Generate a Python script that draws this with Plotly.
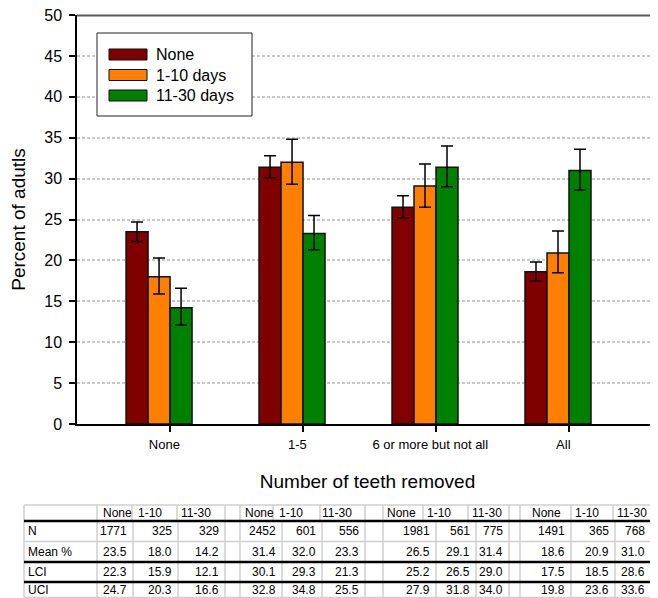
import plotly.graph_objects as go

# ---------------- data ----------------
categories = ["None", "1-5", "6 or more but not all", "All"]
series_names = ["None", "1-10 days", "11-30 days"]
short_names = ["None", "1-10", "11-30"]
colors = ["#800000", "#FF8000", "#008000"]

n_none = [1771, 2452, 1981, 1491]
n_1_10 = [325, 601, 561, 365]
n_11_30 = [329, 556, 775, 768]

mean_none = [23.5, 31.4, 26.5, 18.6]
mean_1_10 = [18.0, 32.0, 29.1, 20.9]
mean_11_30 = [14.2, 23.3, 31.4, 31.0]

lci_none = [22.3, 30.1, 25.2, 17.5]
lci_1_10 = [15.9, 29.3, 26.5, 18.5]
lci_11_30 = [12.1, 21.3, 29.0, 28.6]

uci_none = [24.7, 32.8, 27.9, 19.8]
uci_1_10 = [20.3, 34.8, 31.8, 23.6]
uci_11_30 = [16.6, 25.5, 34.0, 33.6]

row_labels = ["N", "Mean %", "LCI", "UCI"]
y_ticks = [0, 5, 10, 15, 20, 25, 30, 35, 40, 45, 50]

# ---------------- geometry helpers ----------------
# the page body has an 8px margin, so the figure is drawn 8px smaller
OFF = 8
W, H = 658 - OFF, 598 - OFF
ML, MR, MT, MB = 77 - OFF, 0, 15 - OFF, 0
FONT = "Liberation Sans, Arial, sans-serif"
X_RANGE = [-0.617, 3.752]


def px(x):
    """screen x (reference pixels) -> paper fraction"""
    return (x - OFF - ML) / (W - ML - MR)


def py(y):
    """screen y (reference pixels) -> paper fraction"""
    return (H - MB - (y - OFF)) / (H - MT - MB)


means = [mean_none, mean_1_10, mean_11_30]
lcis = [lci_none, lci_1_10, lci_11_30]
ucis = [uci_none, uci_1_10, uci_11_30]
ns = [n_none, n_1_10, n_11_30]

xpos = list(range(len(categories)))

fig = go.Figure()
for s in range(3):
    fig.add_trace(go.Bar(
        x=xpos,
        y=means[s],
        name=series_names[s],
        marker=dict(color=colors[s], line=dict(color="#111111", width=1.5)),
        error_y=dict(
            type="data", symmetric=False,
            array=[u - m for u, m in zip(ucis[s], means[s])],
            arrayminus=[m - l for m, l in zip(means[s], lcis[s])],
            color="black", thickness=1.5, width=6,
        ),
        showlegend=False,
    ))

shapes = []
annotations = []

# top border of plot, drawn as a filled strip just inside the plot top
shapes.append(dict(type="rect", xref="paper", yref="paper", x0=0, x1=1,
                   y0=py(16.5), y1=py(14.5),
                   line=dict(width=0), fillcolor="#5a5a5a", layer="above"))

# ---------------- custom legend ----------------
shapes.append(dict(type="rect", xref="paper", yref="paper",
                   x0=px(97), x1=px(252), y0=py(116), y1=py(33),
                   line=dict(color="#222222", width=1), fillcolor="white",
                   layer="above"))
leg_y = [54.5, 75, 95.5]
for s in range(3):
    shapes.append(dict(type="rect", xref="paper", yref="paper",
                       x0=px(109), x1=px(147), y0=py(leg_y[s] + 5.5), y1=py(leg_y[s] - 5.5),
                       line=dict(color="#111111", width=1), fillcolor=colors[s],
                       layer="above"))
    annotations.append(dict(xref="paper", yref="paper", x=px(154), y=py(leg_y[s]),
                            text=series_names[s], showarrow=False,
                            xanchor="left", yanchor="middle",
                            font=dict(family=FONT, size=16, color="black")))

# ---------------- table below ----------------
row_edges = [505, 521, 541.5, 562, 582, 597.5]
body_edges = [24, 97, 133, 178, 225, 240, 282, 322, 365, 383, 436, 476, 509, 520, 571, 615, 651]
head_edges = [24, 97, 132, 177, 225, 240, 273, 320, 365, 383, 423, 468, 509, 520, 571, 613, 651]
head_centers = [117.5, 150, 196, 259, 291, 337, 401.5, 439, 487, 546, 587, 632]
grid_gray = "#cfcfcf"

for x in body_edges:
    shapes.append(dict(type="line", xref="paper", yref="paper",
                       x0=px(x), x1=px(x), y0=py(row_edges[1]), y1=py(row_edges[-1]),
                       line=dict(color=grid_gray, width=1.5)))
for x in head_edges:
    shapes.append(dict(type="line", xref="paper", yref="paper",
                       x0=px(x), x1=px(x), y0=py(row_edges[0]), y1=py(row_edges[1]),
                       line=dict(color=grid_gray, width=1.5)))
h_style = [(grid_gray, 1.5), ("black", 2.5), (grid_gray, 1.5), ("black", 2.5), ("black", 2.5), (grid_gray, 1.5)]
for yv, (c, w) in zip(row_edges, h_style):
    shapes.append(dict(type="line", xref="paper", yref="paper",
                       x0=px(24), x1=px(651), y0=py(yv), y1=py(yv),
                       line=dict(color=c, width=w)))

tfont = dict(family=FONT, size=12, color="black")
head_mid = (row_edges[0] + row_edges[1]) / 2
for g in range(len(categories)):
    for s in range(3):
        annotations.append(dict(xref="paper", yref="paper",
                                x=px(head_centers[g * 3 + s]), y=py(head_mid),
                                text=short_names[s], showarrow=False,
                                xanchor="center", yanchor="middle", font=tfont))

row_values = [
    [ns, "{:d}"],
    [means, "{:.1f}"],
    [lcis, "{:.1f}"],
    [ucis, "{:.1f}"],
]
data_right = []
for g in range(len(categories)):
    base = 1 + g * 4
    for s in range(3):
        data_right.append(body_edges[base + s + 1])

for r, (vals, fmt) in enumerate(row_values):
    ymid = (row_edges[r + 1] + row_edges[r + 2]) / 2
    annotations.append(dict(xref="paper", yref="paper", x=px(26), y=py(ymid),
                            text=row_labels[r], showarrow=False,
                            xanchor="left", yanchor="middle", font=tfont))
    for g in range(len(categories)):
        for s in range(3):
            annotations.append(dict(xref="paper", yref="paper",
                                    x=px(data_right[g * 3 + s] - 4), y=py(ymid),
                                    text=fmt.format(vals[s][g]), showarrow=False,
                                    xanchor="right", yanchor="middle", font=tfont))

fig.update_layout(
    width=W, height=H,
    autosize=False,
    margin=dict(l=ML, r=MR, t=MT, b=MB, pad=0, autoexpand=False),
    paper_bgcolor="white", plot_bgcolor="white",
    barmode="group", bargap=1 - 3 * 22 / 133, bargroupgap=0,
    font=dict(family=FONT, color="black"),
    showlegend=False,
    shapes=shapes,
    annotations=annotations,
    xaxis=dict(
        automargin=False,
        range=X_RANGE,
        tickmode="array",
        tickvals=[i + 0.04 for i in xpos],
        ticktext=categories,
        ticks="outside", ticklen=6, tickcolor="rgba(0,0,0,0)",
        ticklabelstandoff=1,
        tickfont=dict(family=FONT, size=13, color="black"),
        minor=dict(tickmode="array", tickvals=[i + 11 / 133 for i in xpos],
                   ticks="outside", ticklen=6, tickcolor="black", tickwidth=1.5),
        showline=True, linecolor="black", linewidth=2,
        showgrid=False, zeroline=False,
        title=dict(text="Number of teeth removed",
                   font=dict(family=FONT, size=19, color="black"), standoff=24),
        fixedrange=True,
    ),
    yaxis=dict(
        automargin=False,
        domain=[py(424), 1],
        range=[0, 50],
        tickmode="array", tickvals=y_ticks,
        ticks="outside", ticklen=6, tickcolor="black", tickwidth=1.5,
        ticklabelstandoff=4,
        ticklabeloverflow="allow",
        tickfont=dict(family=FONT, size=16, color="black"),
        showline=True, linecolor="black", linewidth=1.5,
        showgrid=True, gridcolor="#c8c8c8", gridwidth=1.5, griddash="3px,2px",
        zeroline=False,
        title=dict(text="Percent of adutls",
                   font=dict(family=FONT, size=19, color="black"), standoff=16),
        fixedrange=True,
    ),
)

fig.write_html("out.html")
